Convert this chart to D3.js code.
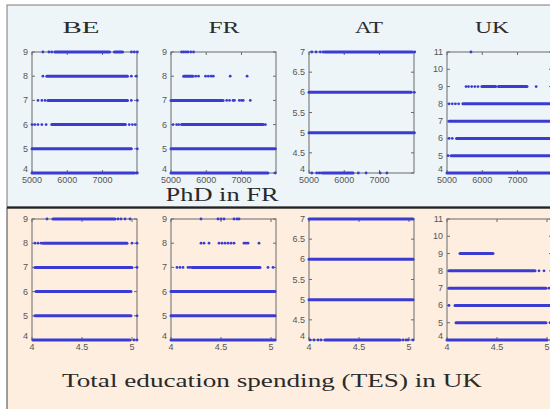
<!DOCTYPE html>
<html>
<head>
<meta charset="utf-8">
<script src="https://cdn.jsdelivr.net/npm/d3@7"></script>
<style>
  html, body { margin: 0; padding: 0; background: #ffffff; }
  svg { display: block; }
</style>
</head>
<body>
<svg id="chart" width="550" height="409"></svg>
<script>
// Country columns and their axes
const countries = ["BE", "FR", "AT", "UK"];
const topXTicks = [5000, 6000, 7000];
const bottomXTicks = [4, 4.5, 5];
const yTicksBE = [4, 5, 6, 7, 8, 9];
const yTicksFR = [4, 5, 6, 7, 8, 9];
const yTicksAT = [4, 4.5, 5, 5.5, 6, 6.5, 7];
const yTicksUK = [4, 5, 6, 7, 8, 9, 10, 11];
const rowTitles = ["PhD in FR", "Total education spending (TES) in UK"];

// Observations: dense runs [level, from, to] and single points [level, x]
// Top row: x = PhD in FR
const beTopRuns = [[9, 5650, 7200], [9, 7340, 7570], [8, 5420, 7710], [7, 5450, 7710], [6, 5560, 7650], [5, 5000, 7820], [4, 5000, 7900]];
const beTopDots = [[9, 5310], [9, 5480], [9, 5560], [9, 7820], [9, 7900], [9, 7990], [8, 5310], [8, 7820], [8, 7960],
  [7, 5170], [7, 5280], [7, 5370], [7, 7820], [7, 7990], [6, 5000], [6, 5080], [6, 5170], [6, 5280], [6, 5400], [6, 7760], [6, 7850], [6, 7930],
  [5, 7990], [4, 7960], [4, 7990]];
const frTopRuns = [[8, 5360, 5620], [7, 5000, 6480], [6, 5300, 7620], [5, 5000, 7960], [4, 5000, 7750]];
const frTopDots = [[9, 5300], [9, 5360], [9, 5420], [9, 5480], [9, 5560], [9, 5640], [8, 5700], [8, 5780], [8, 5980], [8, 6060], [8, 6140], [8, 6200], [8, 6680], [8, 7160],
  [7, 6580], [7, 6660], [7, 6760], [7, 6800], [7, 6940], [7, 7000], [7, 7050], [7, 7250], [6, 5060], [6, 5160], [6, 5220], [6, 7680], [4, 7960]];
const atTopRuns = [[7, 5450, 7940], [6, 5000, 7900], [5, 5000, 7990], [4, 5400, 6250]];
const atTopDots = [[7, 5080], [7, 5200], [7, 5320], [7, 5400], [7, 8000], [6, 7990], [4, 5080], [4, 5220], [4, 5290], [4, 5350], [4, 6400], [4, 6620], [4, 7020], [4, 7210]];
const ukTopRuns = [[9, 5990, 6380], [9, 6460, 7270], [8, 5450, 8000], [7, 5060, 8000], [6, 5270, 8000], [5, 5120, 8000], [4, 5000, 8000]];
const ukTopDots = [[11, 5680], [9, 5540], [9, 5610], [9, 5700], [9, 5790], [9, 5880], [9, 7530], [8, 5060], [8, 5150], [8, 5240], [8, 5330], [6, 5060], [6, 5150], [5, 5030]];

// Bottom row: x = total education spending in UK
const beBotRuns = [[9, 4.21, 4.83], [8, 4.11, 4.95], [7, 4.03, 5.0], [6, 4.04, 4.99], [5, 4.03, 4.99], [4, 4.01, 4.98]];
const beBotDots = [[9, 4.15], [9, 4.86], [9, 4.89], [9, 4.93], [9, 4.98], [8, 4.03], [8, 4.06], [8, 4.09], [8, 5.0], [8, 5.05], [7, 5.05], [5, 5.05], [4, 5.02], [4, 5.05]];
const frBotRuns = [[7, 4.22, 4.89], [6, 4.0, 5.04], [5, 4.0, 5.04], [4, 4.0, 5.04]];
const frBotDots = [[9, 4.30], [9, 4.47], [9, 4.50], [9, 4.53], [9, 4.63], [9, 4.66], [9, 4.68],
  [8, 4.30], [8, 4.33], [8, 4.38], [8, 4.48], [8, 4.51], [8, 4.54], [8, 4.57], [8, 4.60], [8, 4.63], [8, 4.73], [8, 4.75], [8, 4.77], [8, 4.88],
  [7, 4.06], [7, 4.09], [7, 4.12], [7, 4.17], [7, 4.19], [7, 4.21], [7, 4.97], [7, 5.02]];
const atBotRuns = [[7, 4.0, 5.04], [6, 4.0, 5.04], [5, 4.0, 5.04], [4, 4.16, 4.91]];
const atBotDots = [[4, 4.01], [4, 4.05], [4, 4.09], [4, 4.12], [4, 4.94], [4, 4.97], [4, 4.99], [4, 5.04]];
const ukBotRuns = [[9, 4.13, 4.46], [8, 4.02, 4.88], [7, 4.02, 4.99], [6, 4.08, 5.05], [5, 4.09, 4.99], [4, 4.0, 5.0]];
const ukBotDots = [[8, 4.92], [8, 4.97], [7, 5.02], [7, 5.05], [6, 4.02], [5, 5.03]];

const yTickSets = [yTicksBE, yTicksFR, yTicksAT, yTicksUK];
const topRuns = [beTopRuns, frTopRuns, atTopRuns, ukTopRuns];
const topDots = [beTopDots, frTopDots, atTopDots, ukTopDots];
const botRuns = [beBotRuns, frBotRuns, atBotRuns, ukBotRuns];
const botDots = [beBotDots, frBotDots, atBotDots, ukBotDots];

// ---- layout ----
const svg = d3.select("#chart");
const colLeft = [32, 171, 309, 447];
const plotW = 105;
const rows = [
  { top: 52, bottom: 173, xDomain: [5000, 7980], xTicks: topXTicks, runs: topRuns, dots: topDots },
  { top: 219, bottom: 340, xDomain: [4, 5.05], xTicks: bottomXTicks, runs: botRuns, dots: botDots }
];
const titleSpec = [
  { cx: 81, w: 37 }, { cx: 224, w: 31 }, { cx: 369, w: 28 }, { cx: 492, w: 34 }
];
const dotColor = "#3b3bd2";
const serif = "'Liberation Serif', 'DejaVu Serif', serif";
const sans = "'Liberation Sans', Arial, sans-serif";

// panel backgrounds
svg.append("rect").attr("x", 7).attr("y", 5).attr("width", 560).attr("height", 202)
  .attr("fill", "#edf5f9").attr("stroke", "#7a7a7a").attr("stroke-width", 1);
svg.append("rect").attr("x", 7).attr("y", 208).attr("width", 560).attr("height", 220)
  .attr("fill", "#fdeedf").attr("stroke", "#444").attr("stroke-width", 1);
svg.append("line").attr("x1", 7).attr("x2", 550).attr("y1", 207.5).attr("y2", 207.5)
  .attr("stroke", "#222").attr("stroke-width", 2);

// column titles
countries.forEach((c, i) => {
  svg.append("text")
    .attr("x", titleSpec[i].cx).attr("y", 33)
    .attr("text-anchor", "middle")
    .attr("font-family", serif).attr("font-weight", 300)
    .attr("font-size", 16)
    .attr("textLength", titleSpec[i].w).attr("lengthAdjust", "spacingAndGlyphs")
    .attr("fill", "#2a2a2a")
    .text(c);
});

// row titles
svg.append("text").attr("x", 222).attr("y", 201).attr("text-anchor", "middle")
  .attr("font-family", serif).attr("font-size", 18)
  .attr("textLength", 113).attr("lengthAdjust", "spacingAndGlyphs")
  .attr("fill", "#2a2a2a").text(rowTitles[0]);
svg.append("text").attr("x", 272).attr("y", 387).attr("text-anchor", "middle")
  .attr("font-family", serif).attr("font-size", 18)
  .attr("textLength", 420).attr("lengthAdjust", "spacingAndGlyphs")
  .attr("fill", "#2a2a2a").text(rowTitles[1]);

// scatter panels
rows.forEach((row) => {
  countries.forEach((c, i) => {
    const yt = yTickSets[i];
    const x = d3.scaleLinear().domain(row.xDomain).range([colLeft[i], colLeft[i] + plotW]);
    const y = d3.scaleLinear().domain([yt[0], yt[yt.length - 1]]).range([row.bottom, row.top]);
    const g = svg.append("g");

    // box
    g.append("rect").attr("x", x.range()[0]).attr("y", row.top)
      .attr("width", plotW).attr("height", row.bottom - row.top)
      .attr("fill", "none").attr("stroke", "#6a6a6a").attr("stroke-width", 1);

    // inward ticks on all four sides
    const tl = 3;
    row.xTicks.forEach(t => {
      g.append("line").attr("x1", x(t)).attr("x2", x(t)).attr("y1", row.bottom).attr("y2", row.bottom - tl).attr("stroke", "#6a6a6a");
      g.append("line").attr("x1", x(t)).attr("x2", x(t)).attr("y1", row.top).attr("y2", row.top + tl).attr("stroke", "#6a6a6a");
    });
    yt.forEach(t => {
      g.append("line").attr("x1", x.range()[0]).attr("x2", x.range()[0] + tl).attr("y1", y(t)).attr("y2", y(t)).attr("stroke", "#6a6a6a");
      g.append("line").attr("x1", x.range()[1]).attr("x2", x.range()[1] - tl).attr("y1", y(t)).attr("y2", y(t)).attr("stroke", "#6a6a6a");
    });

    // tick labels
    row.xTicks.forEach(t => {
      g.append("text").attr("x", x(t)).attr("y", row.bottom + 10)
        .attr("text-anchor", "middle").attr("font-family", sans)
        .attr("font-size", 9).attr("fill", "#555").text(d3.format("~g")(t));
    });
    yt.forEach((t, k) => {
      g.append("text").attr("x", x.range()[0] - 4).attr("y", y(t) + 3 - (k === 0 ? 4 : 0))
        .attr("text-anchor", "end").attr("font-family", sans)
        .attr("font-size", 9).attr("fill", "#555").text(d3.format("~g")(t));
    });

    // dense runs of observations
    g.selectAll("line.run").data(row.runs[i]).join("line")
      .attr("class", "run")
      .attr("x1", d => x(d[1])).attr("x2", d => x(d[2]))
      .attr("y1", d => y(d[0])).attr("y2", d => y(d[0]))
      .attr("stroke", dotColor).attr("stroke-width", 3).attr("stroke-linecap", "round");

    // single observations
    g.selectAll("circle.pt").data(row.dots[i]).join("circle")
      .attr("class", "pt")
      .attr("cx", d => x(d[1])).attr("cy", d => y(d[0])).attr("r", 1.4)
      .attr("fill", dotColor);
  });
});
</script>
</body>
</html>
